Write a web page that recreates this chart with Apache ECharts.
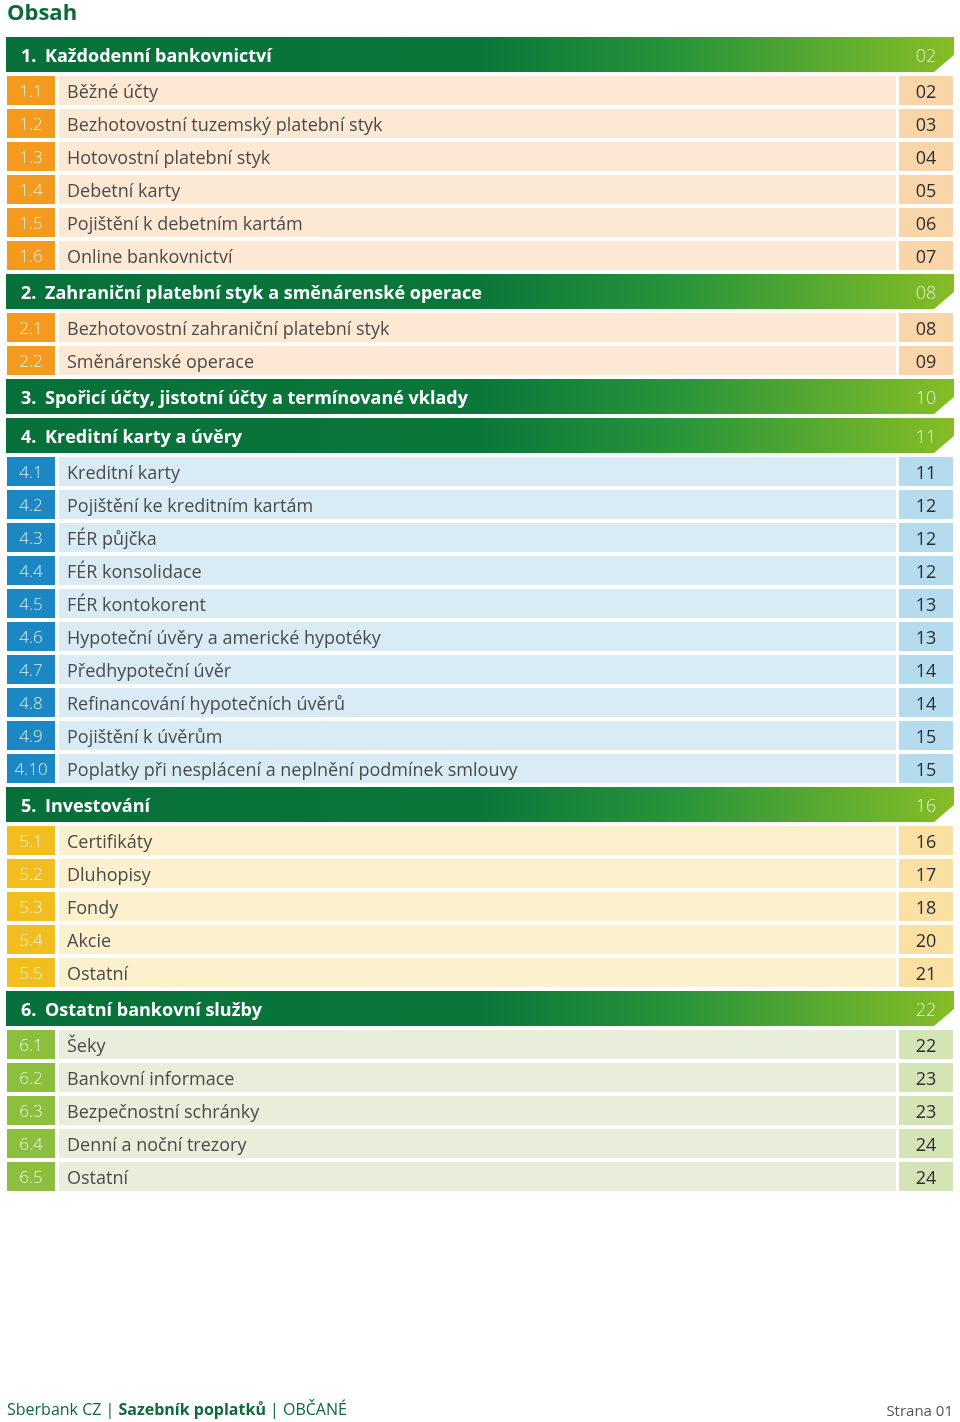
<!DOCTYPE html>
<html>
<head>
<meta charset="utf-8">
<title>Obsah</title>
<script src="https://cdn.jsdelivr.net/npm/echarts@6/dist/echarts.min.js"></script>
<style>
  html, body { margin: 0; padding: 0; background: #fff; }
  #main { width: 960px; height: 1422px; }
</style>
</head>
<body>
<div id="main"></div>
<script>
// kapitoly
const sectionTitles = [
  'Každodenní bankovnictví',
  'Zahraniční platební styk a směnárenské operace',
  'Spořicí účty, jistotní účty a termínované vklady',
  'Kreditní karty a úvěry',
  'Investování',
  'Ostatní bankovní služby'
];
const sectionPages = ['02', '08', '10', '11', '16', '22'];

// podkapitoly
const itemNumbers = [
  '1.1', '1.2', '1.3', '1.4', '1.5', '1.6',
  '2.1', '2.2',
  '4.1', '4.2', '4.3', '4.4', '4.5', '4.6', '4.7', '4.8', '4.9', '4.10',
  '5.1', '5.2', '5.3', '5.4', '5.5',
  '6.1', '6.2', '6.3', '6.4', '6.5'
];
const itemTitles = [
  'Běžné účty', 'Bezhotovostní tuzemský platební styk', 'Hotovostní platební styk',
  'Debetní karty', 'Pojištění k debetním kartám', 'Online bankovnictví',
  'Bezhotovostní zahraniční platební styk', 'Směnárenské operace',
  'Kreditní karty', 'Pojištění ke kreditním kartám', 'FÉR půjčka', 'FÉR konsolidace',
  'FÉR kontokorent', 'Hypoteční úvěry a americké hypotéky', 'Předhypoteční úvěr',
  'Refinancování hypotečních úvěrů', 'Pojištění k úvěrům',
  'Poplatky při nesplácení a neplnění podmínek smlouvy',
  'Certifikáty', 'Dluhopisy', 'Fondy', 'Akcie', 'Ostatní',
  'Šeky', 'Bankovní informace', 'Bezpečnostní schránky', 'Denní a noční trezory', 'Ostatní'
];
const itemPages = [
  '02', '03', '04', '05', '06', '07',
  '08', '09',
  '11', '12', '12', '12', '13', '13', '14', '14', '15', '15',
  '16', '17', '18', '20', '21',
  '22', '23', '23', '24', '24'
];

// barvy podle kapitoly
const palette = [
  { num: '#f39a1f', bg: '#fde9d3', page: '#fbd5aa' },
  { num: '#f39a1f', bg: '#fde9d3', page: '#fbd5aa' },
  { num: '#f39a1f', bg: '#fde9d3', page: '#fbd5aa' },
  { num: '#1b87c3', bg: '#d9ecf6', page: '#b5dbee' },
  { num: '#f2be1f', bg: '#fdf0cd', page: '#fae0a3' },
  { num: '#8cbf3d', bg: '#e9eedb', page: '#d4e4b4' }
];

const FONT = '"Open Sans", "Noto Sans", sans-serif';
const HEAD_H = 35, ITEM_H = 29, GAP = 4, TOP = 37;

// sestavení řádků
const rows = [];
let y = TOP;
sectionTitles.forEach((t, s) => {
  rows.push({ kind: 'h', s: s, top: y });
  y += HEAD_H + GAP;
  itemNumbers.forEach((n, i) => {
    if (parseInt(n, 10) === s + 1) {
      rows.push({ kind: 'i', s: s, i: i, top: y });
      y += ITEM_H + GAP;
    }
  });
});

const chart = echarts.init(document.getElementById('main'));

function renderItem(params, api) {
  const r = rows[params.dataIndex];
  const p = (x, yy) => api.coord([x, yy]);
  const t = api.value(0);
  if (r.kind === 'h') {
    const a = p(6, t), b = p(954, t + HEAD_H);
    const cut1 = p(954, t + HEAD_H - 17), cut2 = p(934, t + HEAD_H);
    const mid = (a[1] + b[1]) / 2 + 2;
    return {
      type: 'group',
      children: [
        {
          type: 'polygon',
          shape: { points: [[a[0], a[1]], [b[0], a[1]], cut1, cut2, [a[0], b[1]]] },
          style: {
            fill: new echarts.graphic.LinearGradient(0, 0, 1, 0, [
              { offset: 0, color: '#07703a' },
              { offset: 0.5, color: '#0a773a' },
              { offset: 0.72, color: '#2b963a' },
              { offset: 1, color: '#86bd26' }
            ])
          }
        },
        {
          type: 'text', x: p(21, 0)[0], y: mid,
          style: { text: (r.s + 1) + '.', fill: '#fff', font: 'bold 18px ' + FONT, verticalAlign: 'middle' }
        },
        {
          type: 'text', x: p(45, 0)[0], y: mid,
          style: { text: sectionTitles[r.s], fill: '#fff', font: 'bold 18px ' + FONT, verticalAlign: 'middle' }
        },
        {
          type: 'text', x: p(926, 0)[0], y: mid,
          style: { text: sectionPages[r.s], fill: '#e4f1d2', font: '300 18px ' + FONT, align: 'center', verticalAlign: 'middle' }
        }
      ]
    };
  }
  const c = palette[r.s];
  const a = p(0, t), b = p(0, t + ITEM_H);
  const h = b[1] - a[1];
  const mid = a[1] + h / 2 + 2;
  const x = v => p(v, 0)[0];
  return {
    type: 'group',
    children: [
      { type: 'rect', shape: { x: x(7), y: a[1], width: x(55) - x(7), height: h }, style: { fill: c.num } },
      { type: 'rect', shape: { x: x(59), y: a[1], width: x(896) - x(59), height: h }, style: { fill: c.bg } },
      { type: 'rect', shape: { x: x(899), y: a[1], width: x(953) - x(899), height: h }, style: { fill: c.page } },
      {
        type: 'text', x: x(31), y: mid,
        style: { text: itemNumbers[r.i], fill: 'rgba(255,255,255,0.85)', font: '300 17px ' + FONT, align: 'center', verticalAlign: 'middle' }
      },
      {
        type: 'text', x: x(67), y: mid,
        style: { text: itemTitles[r.i], fill: '#4a4a4a', font: '18px ' + FONT, verticalAlign: 'middle' }
      },
      {
        type: 'text', x: x(926), y: mid,
        style: { text: itemPages[r.i], fill: '#2e2e2e', font: '18px ' + FONT, align: 'center', verticalAlign: 'middle' }
      }
    ]
  };
}

const option = {
  animation: false,
  grid: { left: 0, right: 0, top: 0, bottom: 0 },
  xAxis: { type: 'value', min: 0, max: 960, show: false },
  yAxis: { type: 'value', min: 0, max: 1422, inverse: true, show: false },
  graphic: [
    {
      type: 'text', left: 7, top: 3,
      style: { text: 'Obsah', fill: '#0c6a3a', font: 'bold 22px ' + FONT }
    },
    {
      type: 'text', left: 7, top: 1402,
      style: {
        text: '{a|Sberbank CZ | }{b|Sazebník poplatků}{a| | OBČANÉ}',
        rich: {
          a: { fill: '#0c6a3a', font: '16px ' + FONT },
          b: { fill: '#0c6a3a', font: 'bold 16px ' + FONT }
        }
      }
    },
    {
      type: 'text', right: 7, top: 1404,
      style: { text: 'Strana 01', fill: '#555', font: '15px ' + FONT }
    }
  ],
  series: [{
    type: 'custom',
    renderItem: renderItem,
    data: rows.map(r => [r.top]),
    encode: { y: 0 },
    clip: false
  }]
};
chart.setOption(option);
</script>
</body>
</html>
